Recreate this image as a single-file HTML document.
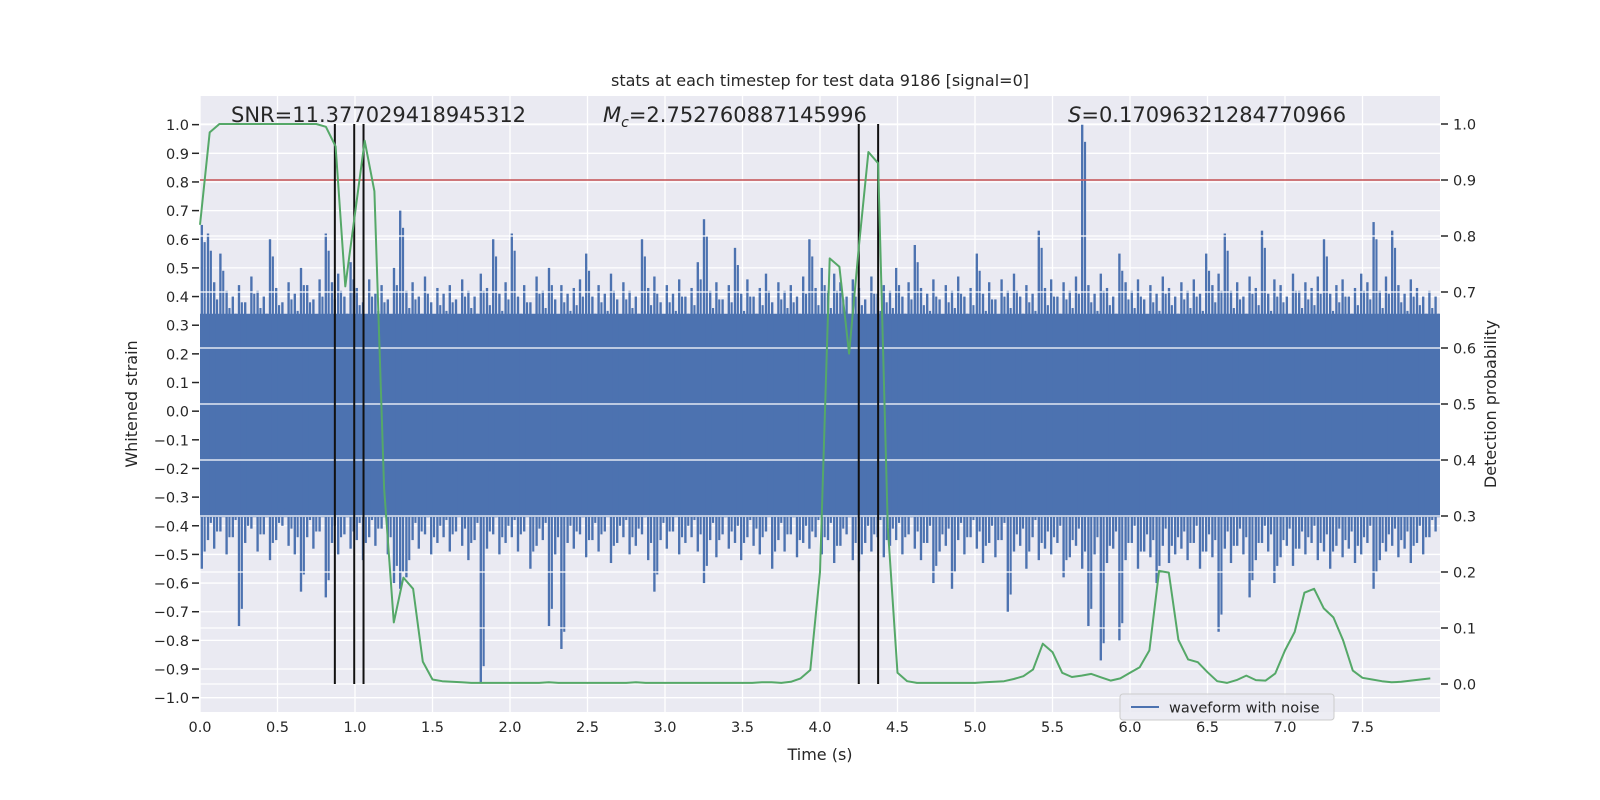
<!DOCTYPE html>
<html><head><meta charset="utf-8">
<style>
html,body{margin:0;padding:0;background:#fff;}
svg{display:block;font-family:"DejaVu Sans","Liberation Sans",sans-serif;}
</style></head>
<body>
<svg id="chart" width="1600" height="800" viewBox="0 0 1600 800" xmlns="http://www.w3.org/2000/svg">
<rect x="200" y="96" width="1240" height="616" fill="#eaeaf2"/>
<g id="grid1"></g>
<g id="wave"></g>
<g id="grid2"></g>
<g id="overlay"></g>
<g id="ticks"></g>
<text x="820" y="86" text-anchor="middle" font-size="16" fill="#262626">stats at each timestep for test data 9186 [signal=0]</text>
<text x="231" y="122" font-size="21" fill="#262626">SNR=11.377029418945312</text>
<text x="603" y="122" font-size="21" fill="#262626"><tspan font-style="italic">M</tspan><tspan font-size="14" dy="5" font-style="italic">c</tspan><tspan dy="-5">=2.752760887145996</tspan></text>
<text x="1068" y="122" font-size="21" fill="#262626"><tspan font-style="italic">S</tspan>=0.17096321284770966</text>
<text transform="translate(137,404) rotate(-90)" text-anchor="middle" font-size="16" fill="#262626">Whitened strain</text>
<text transform="translate(1496,404) rotate(-90)" text-anchor="middle" font-size="16" fill="#262626">Detection probability</text>
<text x="820" y="760" text-anchor="middle" font-size="16" fill="#262626">Time (s)</text>
<g>
<rect x="1120" y="694" width="214" height="26" rx="3" fill="#eaeaf2" fill-opacity="0.85" stroke="#cccccc" stroke-width="1"/>
<line x1="1131" y1="707" x2="1159" y2="707" stroke="#4c72b0" stroke-width="2"/>
<text x="1169" y="712.5" font-size="14.5" fill="#262626">waveform with noise</text>
</g>
</svg>
<script>
const xTicks=[0,0.5,1,1.5,2,2.5,3,3.5,4,4.5,5,5.5,6,6.5,7,7.5];
const yLeftTicks=[1,0.9,0.8,0.7,0.6,0.5,0.4,0.3,0.2,0.1,0,-0.1,-0.2,-0.3,-0.4,-0.5,-0.6,-0.7,-0.8,-0.9,-1];
const yRightTicks=[1,0.9,0.8,0.7,0.6,0.5,0.4,0.3,0.2,0.1,0];
const waveBinDt=0.04;
const waveCoreHi=0.34;
const waveCoreLo=-0.37;
const waveHi=[0.65,0.62,0.45,0.55,0.42,0.40,0.44,0.38,0.47,0.42,0.40,0.60,0.43,0.38,0.45,0.41,0.50,0.44,0.39,0.46,
0.62,0.45,0.48,0.40,0.52,0.43,0.38,0.46,0.41,0.44,0.39,0.50,0.70,0.42,0.45,0.40,0.47,0.38,0.43,0.41,
0.44,0.39,0.46,0.42,0.40,0.48,0.43,0.60,0.41,0.45,0.62,0.40,0.44,0.38,0.47,0.42,0.50,0.39,0.44,0.41,
0.43,0.46,0.55,0.40,0.44,0.41,0.48,0.39,0.45,0.42,0.40,0.60,0.43,0.47,0.38,0.44,0.41,0.46,0.40,0.43,
0.52,0.67,0.42,0.45,0.39,0.44,0.57,0.41,0.46,0.40,0.43,0.48,0.38,0.45,0.42,0.44,0.40,0.47,0.60,0.43,
0.50,0.42,0.48,0.45,0.40,0.46,0.43,0.39,0.47,0.41,0.44,0.42,0.50,0.40,0.45,0.58,0.43,0.41,0.46,0.39,
0.44,0.42,0.47,0.40,0.43,0.55,0.41,0.45,0.39,0.46,0.42,0.48,0.40,0.44,0.41,0.63,0.43,0.46,0.40,0.45,
0.42,0.47,1.00,0.44,0.41,0.48,0.43,0.40,0.55,0.45,0.42,0.46,0.39,0.44,0.41,0.47,0.43,0.40,0.45,0.42,
0.46,0.41,0.55,0.44,0.48,0.62,0.42,0.45,0.40,0.47,0.43,0.63,0.41,0.46,0.44,0.40,0.48,0.42,0.45,0.43,
0.47,0.60,0.41,0.44,0.46,0.40,0.43,0.48,0.45,0.66,0.42,0.47,0.63,0.44,0.41,0.46,0.43,0.40,0.42,0.40];
const waveLo=[-0.55,-0.45,-0.48,-0.42,-0.50,-0.44,-0.75,-0.46,-0.41,-0.49,-0.43,-0.52,-0.45,-0.40,-0.47,-0.50,-0.63,-0.44,-0.48,-0.42,
-0.65,-0.46,-0.50,-0.43,-0.48,-0.45,-0.52,-0.44,-0.47,-0.41,-0.50,-0.60,-0.62,-0.58,-0.45,-0.48,-0.43,-0.50,-0.46,-0.44,
-0.49,-0.42,-0.47,-0.52,-0.45,-0.95,-0.48,-0.43,-0.50,-0.46,-0.44,-0.49,-0.42,-0.55,-0.47,-0.45,-0.75,-0.50,-0.83,-0.46,
-0.48,-0.43,-0.51,-0.45,-0.49,-0.42,-0.53,-0.46,-0.44,-0.50,-0.47,-0.43,-0.52,-0.63,-0.45,-0.48,-0.42,-0.50,-0.46,-0.44,
-0.49,-0.60,-0.45,-0.51,-0.43,-0.48,-0.46,-0.52,-0.44,-0.47,-0.50,-0.42,-0.55,-0.45,-0.49,-0.43,-0.51,-0.46,-0.48,-0.44,
-0.50,-0.45,-0.53,-0.47,-0.43,-0.52,-0.56,-0.46,-0.49,-0.44,-0.51,-0.47,-0.45,-0.50,-0.43,-0.48,-0.52,-0.46,-0.60,-0.49,
-0.47,-0.62,-0.45,-0.50,-0.44,-0.48,-0.53,-0.46,-0.51,-0.45,-0.70,-0.49,-0.47,-0.55,-0.44,-0.52,-0.48,-0.50,-0.46,-0.58,
-0.51,-0.47,-0.55,-0.75,-0.50,-0.87,-0.53,-0.48,-0.80,-0.52,-0.46,-0.55,-0.49,-0.51,-0.60,-0.47,-0.53,-0.50,-0.48,-0.52,
-0.46,-0.55,-0.49,-0.51,-0.77,-0.48,-0.53,-0.47,-0.50,-0.65,-0.52,-0.46,-0.49,-0.60,-0.51,-0.47,-0.54,-0.48,-0.50,-0.46,
-0.52,-0.49,-0.55,-0.47,-0.51,-0.48,-0.53,-0.50,-0.46,-0.62,-0.52,-0.49,-0.47,-0.51,-0.48,-0.53,-0.46,-0.50,-0.44,-0.42];
const probDt=0.0625;
const probValues=[0.82,0.985,1,1,1,1,1,1,1,1,1,1,1,0.995,0.96,0.71,0.84,0.97,0.88,0.35,
0.11,0.19,0.17,0.04,0.008,0.005,0.004,0.003,0.002,0.002,0.002,0.002,0.002,0.002,0.002,0.002,0.003,0.002,0.002,0.002,
0.002,0.002,0.002,0.002,0.002,0.003,0.002,0.002,0.002,0.002,0.002,0.002,0.002,0.002,0.002,0.002,0.002,0.002,0.003,0.003,
0.002,0.004,0.01,0.025,0.2,0.76,0.745,0.59,0.78,0.95,0.93,0.28,0.02,0.005,0.002,0.002,0.002,0.002,0.002,0.002,
0.002,0.003,0.004,0.005,0.009,0.014,0.026,0.072,0.057,0.02,0.0125,0.015,0.018,0.012,0.006,0.01,0.02,0.03,0.06,0.202,
0.199,0.079,0.044,0.039,0.021,0.005,0.002,0.007,0.015,0.007,0.006,0.019,0.06,0.093,0.163,0.17,0.135,0.119,0.078,0.024,
0.011,0.008,0.005,0.003,0.004,0.006,0.008,0.01];
const thresholdValue=0.9;
const markerTimes=[0.87,0.995,1.055,4.25,4.375];

const NS='http://www.w3.org/2000/svg';
const L=200,R=1440,T=96,B=712;
const X=t=>L+(t-0)/8*(R-L);
const YL=v=>T+(1.1-v)/2.15*(B-T);
const YR=v=>T+(1.05-v)/1.1*(B-T);
function mk(tag,attrs,parent){const e=document.createElementNS(NS,tag);for(const k in attrs)e.setAttribute(k,attrs[k]);parent.appendChild(e);return e;}
const g1=document.getElementById('grid1'),gw=document.getElementById('wave'),g2=document.getElementById('grid2'),ov=document.getElementById('overlay'),tk=document.getElementById('ticks');

xTicks.forEach(t=>{const l=mk('line',{x1:X(t),x2:X(t),y1:T,y2:B,stroke:'#fff','stroke-width':1.3},g1);


const tx=mk('text',{x:X(t),y:B+20,'text-anchor':'middle','font-size':14.5,fill:'#262626'},tk);tx.textContent=t.toFixed(1);

});
yLeftTicks.forEach(v=>{const l=mk('line',{x1:L,x2:R,y1:YL(v),y2:YL(v),stroke:'#fff','stroke-width':1.3},g1);


const m=mk('line',{x1:L-8,x2:L-1,y1:YL(v),y2:YL(v),stroke:'#262626','stroke-width':1.5},tk);


const tx=mk('text',{x:L-11,y:YL(v)+5.5,'text-anchor':'end','font-size':14.5,fill:'#262626'},tk);tx.textContent=(v<0?'\u2212':'')+Math.abs(v).toFixed(1);

});
yRightTicks.forEach(v=>{const l=mk('line',{x1:L,x2:R,y1:YR(v),y2:YR(v),stroke:'#fff','stroke-width':1.3},g2);


const m=mk('line',{x1:R+1,x2:R+8,y1:YR(v),y2:YR(v),stroke:'#262626','stroke-width':1.5},tk);


const tx=mk('text',{x:R+13,y:YR(v)+5.5,'font-size':14.5,fill:'#262626'},tk);tx.textContent=v.toFixed(1);

});

const core=mk('rect',{x:L,y:YL(waveCoreHi),width:R-L,height:YL(waveCoreLo)-YL(waveCoreHi),fill:'#4c72b0'},gw);


waveHi.forEach((h,i)=>{const lo=waveLo[i];const x0=X(i*waveBinDt),x1=X((i+1)*waveBinDt);const w=x1-x0;
const r=mk('rect',{x:x0+w*0.1,y:YL(h),width:w*0.38,height:YL(lo)-YL(h),fill:'#4c72b0'},gw);


const r2=mk('rect',{x:x0+w*0.58,y:YL(h-0.06),width:w*0.34,height:YL(lo+0.06)-YL(h-0.06),fill:'#4c72b0'},gw);

});

const th=mk('line',{x1:L,x2:R,y1:YR(thresholdValue),y2:YR(thresholdValue),stroke:'#c44e52','stroke-width':1.5},ov);


markerTimes.forEach(t=>{const l=mk('line',{x1:X(t),x2:X(t),y1:YR(1),y2:YR(0),stroke:'#111','stroke-width':2},ov);

});
const pts=probValues.map((v,i)=>X(i*probDt).toFixed(1)+','+YR(v).toFixed(1)).join(' ');
const pl=mk('polyline',{points:pts,fill:'none',stroke:'#55a868','stroke-width':2,'stroke-linejoin':'round'},ov);


</script>
</body></html>
